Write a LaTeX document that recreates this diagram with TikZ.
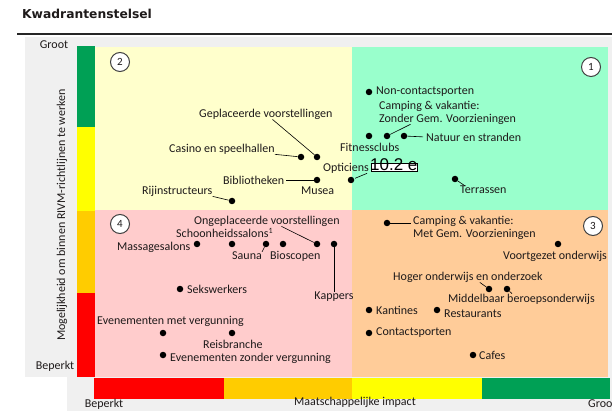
\documentclass[tikz,border=0pt]{standalone}
\usepackage{fontspec}
\setmainfont{Carlito}
\newfontfamily\titlefont{DejaVu Sans}
\newfontfamily\artfont{Liberation Sans}
\usetikzlibrary{calc}
\definecolor{qyel}{HTML}{FFFFCC}
\definecolor{qgrn}{HTML}{99FFCC}
\definecolor{qpnk}{HTML}{FFCCCC}
\definecolor{qorg}{HTML}{FFCC99}
\definecolor{bgrn}{HTML}{00A055}
\definecolor{byel}{HTML}{FFFF00}
\definecolor{borg}{HTML}{FFCC00}
\definecolor{bred}{HTML}{FF0000}
\definecolor{panel}{HTML}{F0F0F0}
\definecolor{ink}{HTML}{1E1A1A}
\tikzset{
  pt/.style={circle,fill=black,inner sep=0pt,minimum size=6.5pt},
  lb/.style={inner sep=0pt,text=ink,font=\fontsize{12}{12.5}\selectfont},
  lbl/.style={lb,anchor=west},
  conn/.style={draw=black,line width=0.6pt},
  numc/.style={circle,draw=black!75,fill=white,line width=1pt,minimum size=19pt,inner sep=0pt,font=\fontsize{11}{11}\selectfont,text=ink},
}
\begin{document}
\begin{tikzpicture}[x=1pt,y=-1pt]
\clip (0,0) rectangle (612,411);
\useasboundingbox (0,0) rectangle (612,411);
\fill[white] (0,0) rectangle (612,411);
% grey panel
\fill[panel] (25,37) rectangle (612,377);
\fill[panel] (67,377) rectangle (612,411);
% quadrants
\fill[qyel] (95,47) rectangle (352,210);
\fill[qgrn] (352,47) rectangle (608,210);
\fill[qpnk] (95,210) rectangle (352,377);
\fill[qorg] (352,210) rectangle (608,377);
% vertical bar
\fill[bgrn] (77,46) rectangle (95,127);
\fill[byel] (77,127) rectangle (95,211);
\fill[borg] (77,211) rectangle (95,293);
\fill[bred] (77,293) rectangle (95,377);
% horizontal bar
\fill[bred] (94,378) rectangle (224,399);
\fill[borg] (224,378) rectangle (352,399);
\fill[byel] (352,378) rectangle (482,399);
\fill[bgrn] (482,378) rectangle (610,399);
% title and rule
\node[anchor=west,inner sep=0pt,font=\titlefont\bfseries\fontsize{12.3}{13}\selectfont,text=ink] (title) at (22,14) {Kwadrantenstelsel};
\draw[line width=1.4pt,draw=black!85] (17,34) -- (612,34);
% axis labels
\node[lb] (groot) at (54,45) {Groot};
\node[lb] (beperkt) at (55,366) {Beperkt};
\node[lb,rotate=90,font=\fontsize{12}{12.5}\selectfont] (yax) at (62,215) {Mogelijkheid om binnen RIVM-richtlijnen te werken};
\node[lb] (beperkt2) at (104,404) {Beperkt};
\node[lb] (xax) at (355,402) {Maatschappelijke impact};
\node[lbl] (groot2) at (588,404) {Groot};
% quadrant numbers
\node[numc] (n2) at (120,62) {2};
\node[numc] (n1) at (591,67) {1};
\node[numc] (n4) at (120,224) {4};
\node[numc] (n3) at (593,226) {3};
% ---------- Quadrant 2
\node[lbl] (geplL) at (199,114) {Geplaceerde voorstellingen};
\node[pt] (gepl) at (317,157) {};
\node[lbl] (casL) at (169,149) {Casino en speelhallen};
\node[pt] (cas) at (301,157) {};
\node[lbl] (bibL) at (223,180) {Bibliotheken};
\node[pt] (bib) at (317,180) {};
\node[lbl] (musL) at (301,191) {Musea};
\node[lbl] (optL) at (323,168) {Opticiens};
\node[pt] (opt) at (351,180) {};
\node[lbl] (rijL) at (142,191) {Rijinstructeurs};
\node[pt] (rij) at (232,201) {};
\draw[conn] ($(geplL.south west)!0.55!(geplL.south east)$) -- (gepl);
\draw[conn] (casL.south east) -- (cas);
\draw[conn,shorten <=2pt] (bibL.east) -- (bib);
\draw[conn,shorten <=1pt] (opt) -- ($(optL.south east)+(-2,0)$);
\draw[conn] (rijL.south east) -- (rij);
% ---------- Quadrant 1
\node[pt] (nc) at (369,92) {};
\node[lbl] (ncL) at (376,92) {Non-contactsporten};
\node[lb,anchor=north west,align=left] (campL) at (379,101) {Camping \& vakantie:\\Zonder Gem. Voorzieningen};
\node[pt] (fit) at (369,136) {};
\node[pt] (camp) at (387,136) {};
\node[pt] (nat) at (404,136) {};
\node[lbl] (natL) at (426,137) {Natuur en stranden};
\node[lbl] (fitL) at (340,147) {Fitnessclubs};
\draw[conn] (camp) -- ($(campL.south west)!0.23!(campL.south east)$);
\draw[conn,shorten >=3pt] (nat) -- (natL.west);
\fill[white,draw=black,line width=0.5pt] (371,163) rectangle (417,171);
\node[anchor=base west,inner sep=0pt,font=\artfont\fontsize{17}{17}\selectfont,text=black] (art) at (370,171) {10.2 e};
\node[pt] (ter) at (455,179) {};
\node[lbl] (terL) at (460,190) {Terrassen};
\draw[conn] (ter) -- ($(terL.north west)+(5,0)$);
% ---------- Quadrant 4
\node[lbl] (ongL) at (194,221) {Ongeplaceerde voorstellingen};
\node[lbl] (schL) at (176,233) {Schoonheidssalons\textsuperscript{1}};
\node[lbl] (masL) at (117,247) {Massagesalons};
\node[pt] (mas) at (197,244) {};
\node[pt] (sch) at (232,244) {};
\node[pt] (sau) at (266,244) {};
\node[pt] (bio) at (283,244) {};
\node[pt] (ong) at (317,244) {};
\node[pt] (kap) at (334,244) {};
\node[lbl] (sauL) at (232,256) {Sauna};
\node[lbl] (bioL) at (270,256) {Bioscopen};
\node[lb] (kapL) at (334,297) {Kappers};
\draw[conn] (sauL.north east) -- (sau);
\draw[conn] ($(ongL.south west)!0.6!(ongL.south east)$) -- (ong);
\draw[conn] (kap) -- (kapL.north);
\node[pt] (sek) at (180,289) {};
\node[lbl] (sekL) at (187,289) {Sekswerkers};
\node[lbl] (evmL) at (97,321) {Evenementen met vergunning};
\node[pt] (evm) at (163,333) {};
\node[pt] (reis) at (232,333) {};
\node[lbl] (reisL) at (203,344) {Reisbranche};
\node[pt] (evz) at (163,355) {};
\node[lbl] (evzL) at (170,358) {Evenementen zonder vergunning};
% ---------- Quadrant 3
\node[pt] (cmg) at (387,223) {};
\node[lb,anchor=north west,align=left] (cmgL) at (413,216) {Camping \& vakantie:\\Met Gem. Voorzieningen};
\draw[conn,shorten >=2pt] (cmg) -- (cmgL.north west |- cmg);
\node[pt] (vo) at (558,244) {};
\node[lbl] (voL) at (503,256) {Voortgezet onderwijs};
\node[lbl] (hoL) at (393,277) {Hoger onderwijs en onderzoek};
\node[pt] (ho) at (489,289) {};
\draw[conn] ($(hoL.south west)!0.58!(hoL.south east)$) -- (ho);
\node[pt] (mbo) at (507,289) {};
\node[lbl] (mboL) at (448,299) {Middelbaar beroepsonderwijs};
\draw[conn] (mbo) -- ($(mboL.north west)+(64,0)$);
\node[pt] (kan) at (369,310) {};
\node[lbl] (kanL) at (376,310) {Kantines};
\node[pt] (res) at (437,310) {};
\node[lbl] (resL) at (444,314) {Restaurants};
\node[pt] (con) at (369,333) {};
\node[lbl] (conL) at (376,333) {Contactsporten};
\node[pt] (caf) at (473,355) {};
\node[lbl] (cafL) at (479,355) {Cafes};
\end{tikzpicture}
\end{document}
